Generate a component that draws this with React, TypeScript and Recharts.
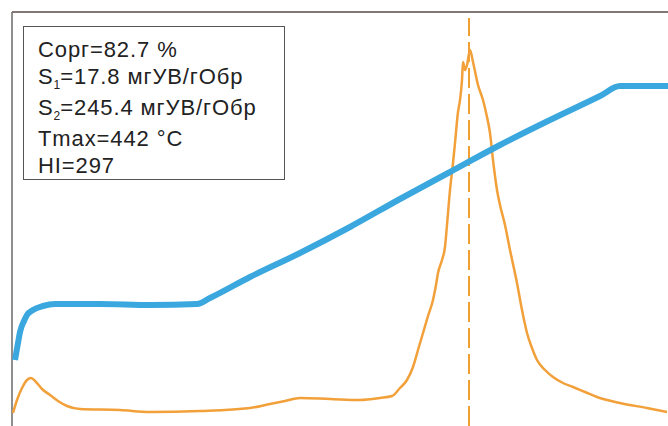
import React from "react";
import { LineChart, Line, XAxis, YAxis, ReferenceLine } from "recharts";

// x: time (arbitrary units), y: signal (arbitrary units)
const tempX = [3, 6, 8, 12, 15, 21, 31, 43, 88, 138, 185, 198, 238, 288, 338, 388, 438, 488, 538, 588, 608, 656];
const tempY = [66, 83, 94, 105, 111, 116, 120, 122, 122, 121, 122, 128, 149, 173, 199, 227, 254, 281, 306, 330, 340, 340];

const fidX = [1, 5, 10, 15, 19, 24, 30, 38, 46, 55, 68, 108, 138, 188, 238, 258, 273, 288, 318, 348, 368, 380, 388, 395, 401, 406, 411, 416, 421, 424, 426, 430, 433, 435, 438, 441, 443, 446, 448, 450, 451, 453, 455, 458, 461, 466, 471, 475, 478, 481, 485, 488, 493, 498, 505, 510, 515, 520, 525, 533, 541, 551, 561, 573, 585, 608, 635, 655];
const fidY = [13, 26, 38, 46, 48, 44, 37, 31, 25, 20, 17, 16, 14, 15, 18, 22, 25, 28, 27, 26, 28, 30, 38, 46, 59, 76, 93, 110, 126, 141, 153, 166, 179, 201, 236, 263, 283, 314, 326, 346, 364, 356, 361, 376, 364, 341, 326, 309, 293, 266, 236, 221, 201, 176, 143, 116, 93, 78, 66, 56, 49, 43, 39, 34, 29, 23, 18, 14];

const tmaxX = 457;
const infoLines = ["Сорг=82.7 %", "S|1|=17.8 мгУВ/гОбр", "S|2|=245.4 мгУВ/гОбр", "Tmax=442 °C", "HI=297"];

const tempData = tempX.map((x, i) => ({ x, y: tempY[i] }));
const fidData = fidX.map((x, i) => ({ x, y: fidY[i] }));

function InfoLine({ text }: { text: string }) {
  const parts = text.split("|");
  if (parts.length === 1) return <div>{text}</div>;
  return (
    <div>
      {parts[0]}
      <span style={{ fontSize: 12, position: "relative", top: 5, letterSpacing: 0 }}>{parts[1]}</span>
      {parts[2]}
    </div>
  );
}

export default function App() {
  return (
    <div style={{ position: "absolute", left: 0, top: 0, width: 668, height: 426, background: "#fff" }}>
      <LineChart width={668} height={426} margin={{ top: 12, left: 12, right: 0, bottom: 0 }}>
        <XAxis type="number" dataKey="x" domain={[0, 656]} hide allowDataOverflow />
        <YAxis type="number" dataKey="y" domain={[0, 414]} hide allowDataOverflow />
        <ReferenceLine y={414} stroke="#5a4a48" strokeWidth={1.5} ifOverflow="visible" />
        <ReferenceLine x={0} stroke="#6a6a6a" strokeWidth={1.5} ifOverflow="visible" />
        <ReferenceLine
          segment={[{ x: tmaxX, y: 0 }, { x: tmaxX, y: 408 }]}
          stroke="#f0a030"
          strokeWidth={2}
          strokeDasharray="20 6"
        />
        <Line data={fidData} dataKey="y" type="monotone" stroke="#f2a03a" strokeWidth={2.5} dot={false} isAnimationActive={false} />
        <Line data={tempData} dataKey="y" type="monotone" stroke="#3aa7df" strokeWidth={6} dot={false} isAnimationActive={false} />
      </LineChart>
      <div
        style={{
          position: "absolute",
          left: 23,
          top: 26,
          width: 262,
          height: 154,
          border: "1px solid #555",
          background: "#fff",
          boxSizing: "border-box",
          paddingLeft: 14,
          paddingTop: 9,
          fontFamily: "'Liberation Sans', Arial, sans-serif",
          fontSize: 22,
          letterSpacing: 0.9,
          lineHeight: "27px",
          color: "#222",
          whiteSpace: "nowrap",
        }}
      >
        {infoLines.map((t, i) => (
          <InfoLine key={i} text={t} />
        ))}
      </div>
    </div>
  );
}
